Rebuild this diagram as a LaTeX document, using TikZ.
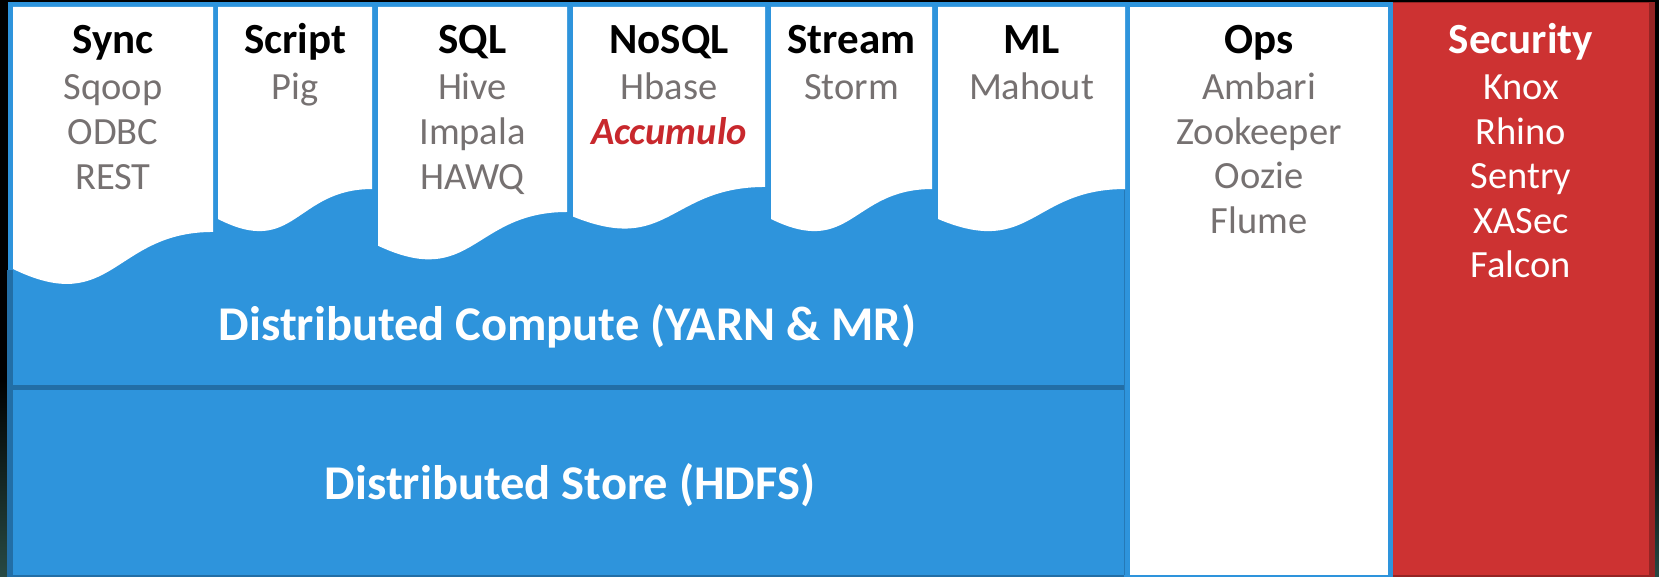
\documentclass[tikz,border=0pt]{standalone}
\usepackage{fontspec}
\setmainfont{Carlito}
\definecolor{hblue}{HTML}{2E94DC}
\definecolor{dblue}{HTML}{226EA6}
\definecolor{hred}{HTML}{CD3232}
\definecolor{dred}{HTML}{952424}
\definecolor{itemgray}{HTML}{767171}
\definecolor{accred}{HTML}{C8282D}
\definecolor{glow}{HTML}{284A44}
\tikzset{
  head/.style={anchor=base, inner sep=0pt, font=\fontsize{43}{50}\selectfont\bfseries, text=black},
  item/.style={anchor=base, inner sep=0pt, font=\fontsize{38.5}{46}\selectfont, text=itemgray},
  secitem/.style={item, text=white},
  bigtext/.style={anchor=base, inner sep=0pt, font=\fontsize{48.5}{58}\selectfont\bfseries, text=white},
  paper/.style={fill=white},
}
% document shape: x0, x1, top, height
\newcommand\docshape[4]{%
  \fill[paper] (#1,#3) -- (#2,#3) -- (#2,{#3+0.802*#4})
    .. controls ({(#1+#2)/2},{#3+0.802*#4}) and ({(#1+#2)/2},{#3+1.1075*#4}) ..
    (#1,{#3+0.934*#4}) -- cycle;}
\begin{document}
\begin{tikzpicture}[x=1pt,y=-1pt]
\useasboundingbox (0,0) rectangle (1659,577);
% background
\fill[black] (0,0) rectangle (1659,577);
\shade[top color=black, bottom color=glow] (0,380) rectangle (7,577);
\shade[top color=black, bottom color=glow] (1655,430) rectangle (1659,577);
% blue frame
\fill[hblue] (8,2) rectangle (1393,577);
% compute / store box edges
\fill[dblue] (7,270) rectangle (13,577);
\fill[dblue] (7,385) rectangle (1124,390);
\fill[dblue] (7,575) rectangle (1124,577);
\draw[dblue!70!hblue, line width=1pt] (1124,190) -- (1124,575);
% columns
\docshape{13}{213}{7}{280.5}
\docshape{218}{372}{7}{227}
\docshape{378}{567}{7}{255.6}
\docshape{573}{765}{7}{224.4}
\docshape{771}{932}{7}{227}
\docshape{938}{1125}{7}{227}
\fill[paper] (1130,7) rectangle (1388,575);
% security box
\fill[dred] (1393,2) rectangle (1655,577);
\fill[hred] (1393,3) rectangle (1649,575);

% texts
\node[head] (hsync) at (113,54) {Sync};
\node[item] (sqoop) at (113,100) {Sqoop};
\node[item] (odbc) at (113,145) {ODBC};
\node[item] (rest) at (113,190) {REST};

\node[head] (hscript) at (295,54) {Script};
\node[item] (pig) at (295,100) {Pig};

\node[head] (hsql) at (472.5,54) {SQL};
\node[item] (hive) at (472.5,100) {Hive};
\node[item] (impala) at (472.5,145) {Impala};
\node[item] (hawq) at (472.5,190) {HAWQ};

\node[head] (hnosql) at (669,54) {NoSQL};
\node[item] (hbase) at (669,100) {Hbase};
\node[item, text=accred, font=\fontsize{38.5}{46}\selectfont\bfseries\itshape] (accumulo) at (669,145) {Accumulo};

\node[head] (hstream) at (851.5,54) {Stream};
\node[item] (storm) at (851.5,100) {Storm};

\node[head] (hml) at (1031.5,54) {ML};
\node[item] (mahout) at (1031.5,100) {Mahout};

\node[head] (hops) at (1259,54) {Ops};
\node[item] (ambari) at (1259,100) {Ambari};
\node[item] (zookeeper) at (1259,145) {Zookeeper};
\node[item] (oozie) at (1259,189) {Oozie};
\node[item] (flume) at (1259,234) {Flume};

\node[head, text=white] (hsec) at (1521,54) {Security};
\node[secitem] (knox) at (1521,100) {Knox};
\node[secitem] (rhino) at (1521,145) {Rhino};
\node[secitem] (sentry) at (1521,189) {Sentry};
\node[secitem] (xasec) at (1521,234) {XASec};
\node[secitem] (falcon) at (1521,278) {Falcon};

\node[bigtext] (compute) at (567.5,340) {Distributed Compute (YARN \& MR)};
\node[bigtext] (store) at (570,499) {Distributed Store (HDFS)};
\end{tikzpicture}
\end{document}
